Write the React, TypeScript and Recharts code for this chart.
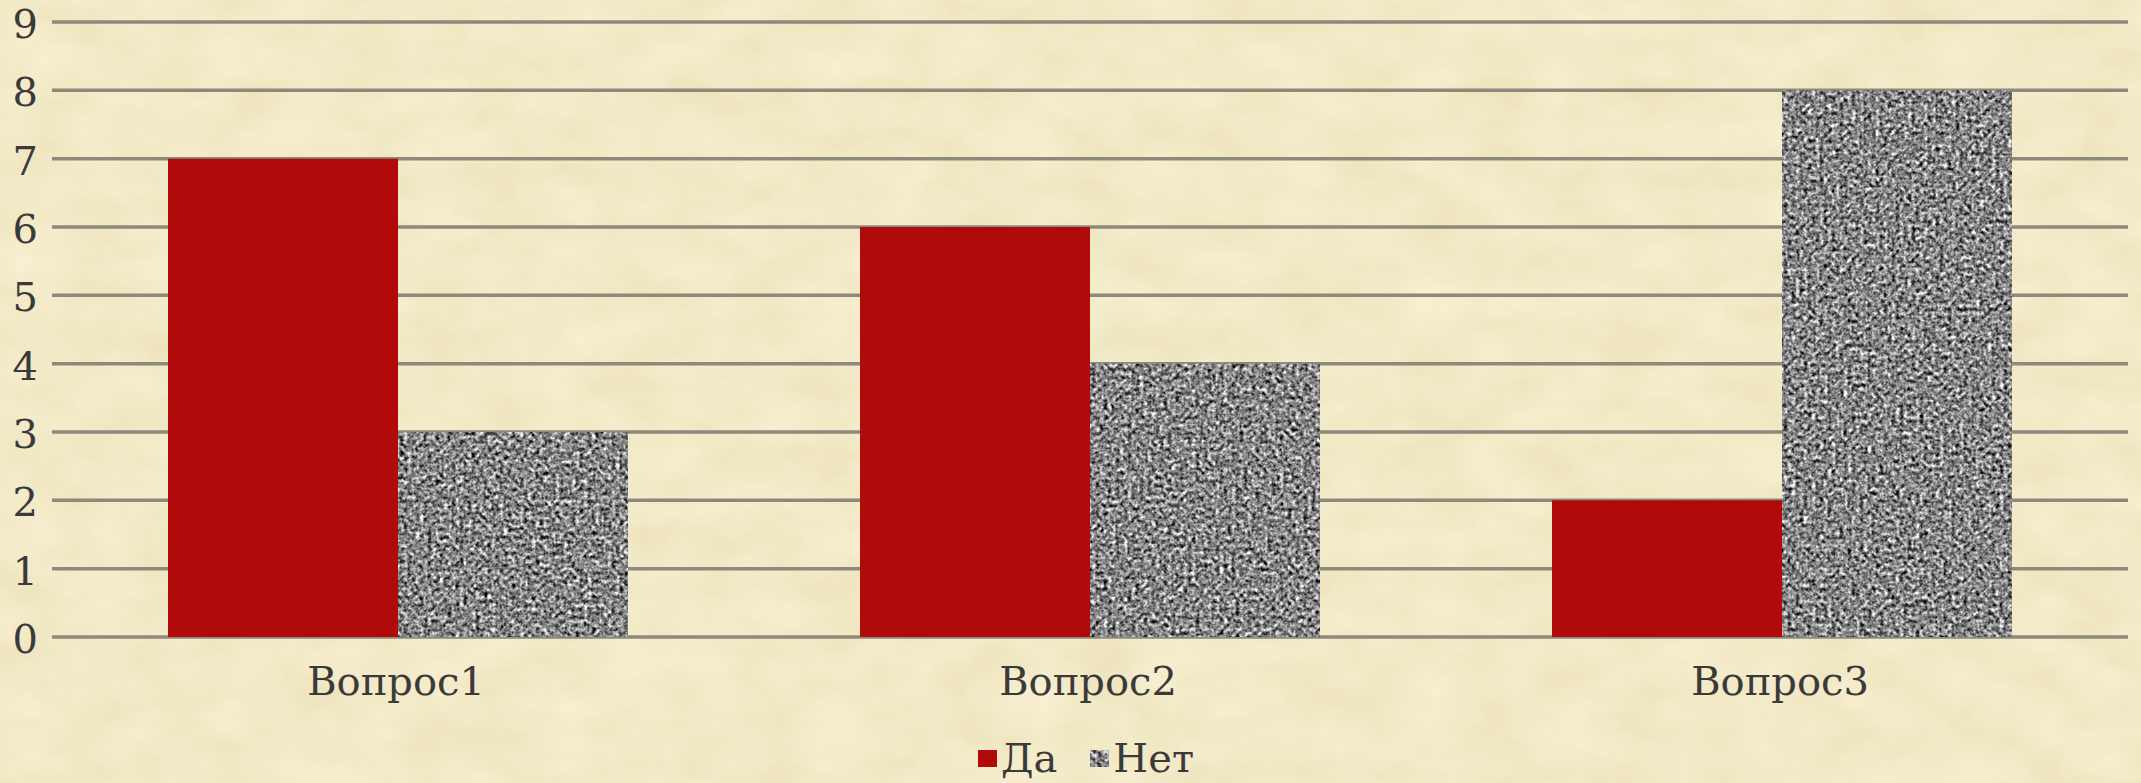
import React from 'react';
import { BarChart, Bar, XAxis, YAxis, CartesianGrid, Legend } from 'recharts';

const categories = ['Вопрос1', 'Вопрос2', 'Вопрос3'];
const yesValues = [7, 6, 2];
const noValues = [3, 4, 8];
const yTicks = [0, 1, 2, 3, 4, 5, 6, 7, 8, 9];
const seriesNames = ['Да', 'Нет'];

const data = categories.map((c, i) => ({ name: c, yes: yesValues[i], no: noValues[i] }));

const FONT = 'DejaVu Serif, serif';
const TEXT = '#3a3a3a';
const RED = '#b10a0a';

const YTick = (props: any) => {
  const { x, y, payload } = props;
  return (
    <text x={x - 14} y={y + 16} textAnchor="end" fontSize={40} fontFamily={FONT} fill={TEXT}>
      {payload.value}
    </text>
  );
};

const XTick = (props: any) => {
  const { x, y, payload } = props;
  return (
    <text x={x - 2} y={y + 58} textAnchor="middle" fontSize={40} fontFamily={FONT} fill={TEXT}>
      {payload.value}
    </text>
  );
};

const NoShape = (props: any) => {
  const { x, y, width, height } = props;
  if (!height || height <= 0) return null;
  return <rect x={x} y={y} width={width} height={height} fill="#8f8f8f" filter="url(#grainFilter)" />;
};

const GrainDefs = ({ id }: { id: string }) => (
  <filter id={id} x="0" y="0" width="1" height="1" colorInterpolationFilters="sRGB">
    <feTurbulence type="fractalNoise" baseFrequency="0.25" numOctaves="3" seed="11" result="noise" />
    <feColorMatrix
      in="noise"
      type="matrix"
      values="0.34 0.33 0.33 0 0  0.34 0.33 0.33 0 0  0.34 0.33 0.33 0 0  0 0 0 0 1"
      result="gray"
    />
    <feComponentTransfer in="gray" result="contrast">
      <feFuncR type="linear" slope="2.6" intercept="-0.78" />
      <feFuncG type="linear" slope="2.6" intercept="-0.78" />
      <feFuncB type="linear" slope="2.6" intercept="-0.77" />
    </feComponentTransfer>
    <feComposite in="contrast" in2="SourceGraphic" operator="in" />
  </filter>
);

const LegendContent = () => (
  <div
    style={{
      height: 50,
      width: '100%',
      boxSizing: 'border-box',
      paddingLeft: 44,
      display: 'flex',
      justifyContent: 'center',
      alignItems: 'center',
      fontFamily: FONT,
      fontSize: 40,
      color: TEXT,
    }}
  >
    <span style={{ display: 'inline-flex', alignItems: 'center', marginRight: 33 }}>
      <svg width={19} height={17} style={{ marginRight: 4 }}>
        <rect width={19} height={17} fill={RED} />
      </svg>
      <span style={{ lineHeight: '50px' }}>{seriesNames[0]}</span>
    </span>
    <span style={{ display: 'inline-flex', alignItems: 'center' }}>
      <svg width={19} height={17} style={{ marginRight: 4 }}>
        <defs>
          <GrainDefs id="grainLegend" />
        </defs>
        <rect width={19} height={17} fill="#8f8f8f" filter="url(#grainLegend)" />
      </svg>
      <span style={{ lineHeight: '50px' }}>{seriesNames[1]}</span>
    </span>
  </div>
);

export default function App() {
  return (
    <div
      style={{
        position: 'absolute',
        left: 0,
        top: 0,
        width: 2141,
        height: 783,
        overflow: 'hidden',
        background: '#f1e8c8',
      }}
    >
      <svg width={2141} height={783} style={{ position: 'absolute', left: 0, top: 0 }}>
        <defs>
          <filter id="paper" x="0" y="0" width="1" height="1" colorInterpolationFilters="sRGB">
            <feTurbulence type="fractalNoise" baseFrequency="0.015 0.025" numOctaves="4" seed="3" result="n" />
            <feColorMatrix
              in="n"
              type="matrix"
              values="0.05 0 0 0 0.925  0.06 0 0 0 0.885  0.1 0 0 0 0.73  0 0 0 0 1"
            />
          </filter>
        </defs>
        <rect x={0} y={0} width={2141} height={783} fill="#f1e8c8" filter="url(#paper)" />
      </svg>
      <div style={{ position: 'absolute', left: 0, top: 0 }}>
        <BarChart
          width={2141}
          height={783}
          data={data}
          margin={{ top: 22, right: 13, left: 0, bottom: 0 }}
          barCategoryGap={116}
          barGap={0}
        >
          <defs>
            <GrainDefs id="grainFilter" />
          </defs>
          <CartesianGrid vertical={false} stroke="#8d8a7c" strokeWidth={3.5} />
          <XAxis
            dataKey="name"
            axisLine={false}
            tickLine={false}
            tickSize={0}
            tickMargin={0}
            height={96}
            tick={<XTick />}
            interval={0}
          />
          <YAxis
            domain={[0, 9]}
            ticks={yTicks}
            axisLine={false}
            tickLine={false}
            tickSize={0}
            tickMargin={0}
            width={52}
            tick={<YTick />}
            interval={0}
          />
          <Legend verticalAlign="bottom" content={<LegendContent />} />
          <Bar dataKey="yes" name={seriesNames[0]} fill={RED} isAnimationActive={false} />
          <Bar dataKey="no" name={seriesNames[1]} fill="#8f8f8f" shape={<NoShape />} isAnimationActive={false} />
        </BarChart>
      </div>
    </div>
  );
}
